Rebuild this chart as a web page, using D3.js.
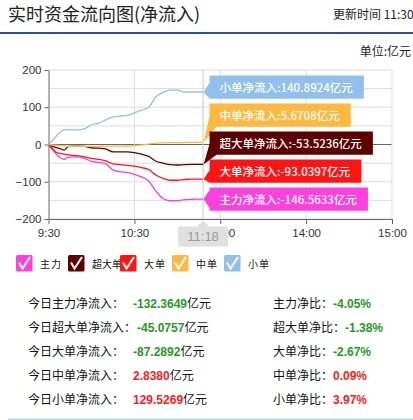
<!DOCTYPE html>
<html>
<head>
<meta charset="utf-8">
<script src="https://cdn.jsdelivr.net/npm/d3@7/dist/d3.min.js"></script>
<style>
  body { margin: 0; background: #fff; }
  svg { display: block; font-family: "Noto Sans CJK SC", "Liberation Sans", sans-serif; }
</style>
</head>
<body>
<svg width="413" height="420"></svg>
<script>
const minutes = [0, 3, 5, 8, 11, 14, 20, 25, 30, 35, 40, 45, 50, 55, 60, 65, 70, 75, 80, 85, 90, 95, 100, 105, 108];

const zhuli   = [0, -15, -24, -35, -40, -34, -33, -37, -45, -48, -52, -68, -73, -75, -80, -87, -98, -125, -145, -151, -151, -148, -147, -146.6, -146.5633];
const chaoda  = [0, -5, -8, -11, -15, -5, -4.5, -5, -9, -10, -12, -20, -20, -20, -22, -26, -32, -45, -50, -54, -55, -54, -53.5, -53.5, -53.5236];
const dadan   = [0, -12, -20, -24, -26, -28, -30, -33, -37, -40, -44, -52, -54, -56, -58, -62, -67, -82, -91, -96, -96, -94, -93, -93, -93.0397];
const zhongdan = [0, -1, -2, -3, -4, -5, -5, -5, -5, -5, -4.5, -4.5, -4.5, -4, -3, -1, 1, 3.5, 4.5, 5, 5.2, 5.4, 5.5, 5.6, 5.6708];
const xiaodan = [0, 12, 20, 33, 39, 40, 39, 42, 53, 57, 66, 74, 76, 78, 85, 92, 100, 128, 140, 146, 146, 141, 141, 141, 140.8924];

const seriesNames = ['主力', '超大单', '大单', '中单', '小单'];
const seriesColors = ['#ff40e0', '#5c0000', '#ff1414', '#ffb840', '#92c0ec'];
const seriesValues = [zhuli, chaoda, dadan, zhongdan, xiaodan];
const tipLabels = ['主力净流入:-146.5633亿元', '超大单净流入:-53.5236亿元', '大单净流入:-93.0397亿元',
                   '中单净流入:5.6708亿元', '小单净流入:140.8924亿元'];

const tickTimes = [0, 60, 120, 180, 240];
const tickLabels = ['9:30', '10:30', '13:00', '14:00', '15:00'];
const yTicks = [200, 100, 0, -100, -200];
const yGrid = [200, 150, 100, 50, 0, -50, -100, -150, -200];
const hoverLabel = '11:18';

// summary table
const statLabels = ['今日主力净流入：', '今日超大单净流入：', '今日大单净流入：', '今日中单净流入：', '今日小单净流入：'];
const statValues = ['-132.3649', '-45.0757', '-87.2892', '2.8380', '129.5269'];
const ratioLabels = ['主力净比：', '超大单净比：', '大单净比：', '中单净比：', '小单净比：'];
const ratioValues = ['-4.05%', '-1.38%', '-2.67%', '0.09%', '3.97%'];

const svg = d3.select('svg');
const green = '#1f9c1f', red = '#ff1a1a';

// header
svg.append('text').attr('x', 8).attr('y', 21).attr('font-size', 18).attr('fill', '#222')
    .text('实时资金流向图(净流入)');
svg.append('text').attr('x', 333).attr('y', 19).attr('font-size', 12).attr('fill', '#222')
    .text('更新时间 11:30');
svg.append('rect').attr('x', 0).attr('y', 32).attr('width', 413).attr('height', 2).attr('fill', '#2d5490');
svg.append('text').attr('x', 411).attr('y', 56).attr('font-size', 12).attr('fill', '#222')
    .attr('text-anchor', 'end').text('单位:亿元');

// scales
const x = d3.scaleLinear().domain([0, 240]).range([48.5, 392]);
const y = d3.scaleLinear().domain([-200, 200]).range([219, 70]);

const plot = svg.append('g');

// grid
plot.selectAll('.hg').data(yGrid).enter().append('line')
    .attr('x1', x(0)).attr('x2', x(240))
    .attr('y1', d => y(d)).attr('y2', d => y(d))
    .attr('stroke', d => d === 0 ? '#666' : '#dcdcdc')
    .attr('stroke-width', d => d === 0 ? 1.2 : 1);
plot.selectAll('.vg').data(tickTimes.slice(1)).enter().append('line')
    .attr('x1', d => x(d)).attr('x2', d => x(d))
    .attr('y1', y(200)).attr('y2', y(-200))
    .attr('stroke', '#dcdcdc');

// axes
const yAxis = d3.axisLeft(y).tickValues(yTicks).tickSize(4).tickSizeOuter(0);
const ga = plot.append('g').attr('transform', `translate(${x(0)},0)`).call(yAxis);
ga.selectAll('text').attr('font-family', 'Liberation Sans, Arial, sans-serif').attr('font-size', 11.5).attr('fill', '#333');
ga.selectAll('line, path').attr('stroke', '#666');

const xAxis = d3.axisBottom(x).tickValues(tickTimes).tickFormat((d, i) => tickLabels[i]).tickSize(5).tickSizeOuter(0).tickPadding(5);
const gx = plot.append('g').attr('transform', `translate(0,${y(-200)})`).call(xAxis);
gx.selectAll('text').attr('font-family', 'Liberation Sans, Arial, sans-serif').attr('font-size', 11.5).attr('fill', '#333');
gx.selectAll('line, path').attr('stroke', '#666');

// crosshair at hover point
const hx = x(minutes[minutes.length - 1]);
plot.append('line').attr('x1', hx).attr('x2', hx).attr('y1', y(200)).attr('y2', y(-200))
    .attr('stroke', '#c8c8c8');

// lines
const line = d3.line().x((d, i) => x(minutes[i])).y(d => y(d)).curve(d3.curveMonotoneX);
seriesValues.forEach((vals, k) => {
    plot.append('path').attr('d', line(vals)).attr('fill', 'none')
        .attr('stroke', seriesColors[k]).attr('stroke-width', 1.3);
});

// tooltip boxes, stacked from the bottom up
const order = d3.range(seriesValues.length)
    .sort((a, b) => d3.descending(seriesValues[a][minutes.length - 1], seriesValues[b][minutes.length - 1]));
const boxH = 23.4, step = 28, L = hx + 6.5;
const centers = [];
for (let j = order.length - 1; j >= 0; j--) {
    const py = y(seriesValues[order[j]][minutes.length - 1]);
    centers[j] = j === order.length - 1 ? py : Math.min(py, centers[j + 1] - step);
}
order.forEach((k, j) => {
    const c = centers[j], T = c - boxH / 2, B = c + boxH / 2;
    const ty = y(seriesValues[k][minutes.length - 1]), tx = hx + 0.5;
    const g = svg.append('g');
    const t = g.append('text').attr('x', L + 10).attr('y', c + 4.5).attr('font-size', 11.5)
        .attr('font-weight', 500).attr('fill', '#fff').text(tipLabels[k]);
    const w = t.node().getComputedTextLength() + 21;
    const R = L + w;
    let pts;
    if (ty > B - 3) {
        pts = [[L, T], [R, T], [R, B], [L + 7, B], [tx, ty], [L, B - 11]];
    } else if (ty < T + 3) {
        pts = [[L, T + 11], [tx, ty], [L + 7, T], [R, T], [R, B], [L, B]];
    } else {
        pts = [[L, T], [R, T], [R, B], [L, B], [L, Math.min(B, ty + 9)], [tx, ty], [L, Math.max(T, ty - 9)]];
    }
    g.insert('polygon', 'text').attr('points', pts.map(p => p.join(',')).join(' '))
        .attr('fill', seriesColors[k]);
});

// axis tooltip 11:18
const ax = svg.append('g');
ax.append('polygon')
    .attr('points', [[hx - 25, 226.5], [hx - 6, 226.5], [hx, 220.5], [hx + 6, 226.5], [hx + 25, 226.5], [hx + 25, 246.5], [hx - 25, 246.5]].map(p => p.join(',')).join(' '))
    .attr('fill', '#e0e0e0');
ax.append('text').attr('x', hx).attr('y', 241).attr('text-anchor', 'middle')
    .attr('font-family', 'Liberation Sans, Arial, sans-serif').attr('font-size', 13).attr('fill', '#9a9a9a')
    .text(hoverLabel);

// legend
const lg = svg.append('g').selectAll('g').data(seriesNames).enter().append('g')
    .attr('transform', (d, i) => `translate(${16 + i * 52},255)`);
lg.append('rect').attr('width', 16.5).attr('height', 16.5).attr('rx', 1.5)
    .attr('fill', (d, i) => seriesColors[i]);
lg.append('polyline').attr('points', '3,7.5 6.5,13.5 14,2').attr('fill', 'none')
    .attr('stroke', '#fff').attr('stroke-width', 2);
lg.append('text').attr('x', 24).attr('y', 13).attr('font-size', 10).attr('fill', '#111')
    .attr('letter-spacing', (d) => d.length === 2 ? 1 : 0).text(d => d);

// summary table
const rowY = i => 308 + i * 24.1;
statLabels.forEach((lab, i) => {
    const t = svg.append('text').attr('x', 28).attr('y', rowY(i)).attr('font-size', 12).attr('fill', '#111').text(lab);
    const vx = Math.max(133, 28 + t.node().getComputedTextLength() + 1);
    const v = svg.append('text').attr('x', vx).attr('y', rowY(i)).attr('font-size', 12);
    v.append('tspan').attr('font-family', 'Liberation Sans, Arial, sans-serif').attr('font-weight', 'bold')
        .attr('fill', statValues[i].startsWith('-') ? green : red).text(statValues[i]);
    v.append('tspan').attr('fill', '#111').text('亿元');

    const r = svg.append('text').attr('x', 273).attr('y', rowY(i)).attr('font-size', 12).attr('fill', '#111');
    r.append('tspan').text(ratioLabels[i]);
    r.append('tspan').attr('font-family', 'Liberation Sans, Arial, sans-serif').attr('font-weight', 'bold')
        .attr('fill', ratioValues[i].startsWith('-') ? green : red).text(ratioValues[i]);
});
svg.append('rect').attr('x', 8).attr('y', 418.5).attr('width', 405).attr('height', 1.5).attr('fill', '#bcd6ee');
</script>
</body>
</html>
